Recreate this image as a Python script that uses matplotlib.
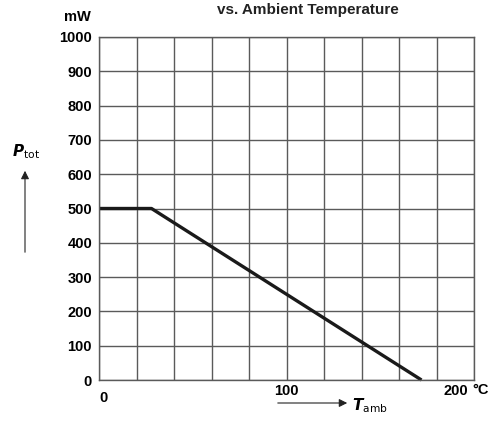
import matplotlib
matplotlib.use("Agg")
import matplotlib.pyplot as plt
from matplotlib.patches import FancyArrowPatch

# data
temp = [0, 28, 172]
power = [500, 500, 0]
x_ticks = [0, 100, 200]
x_tick_labels = ["0", "100", "200"]
y_ticks = [0, 100, 200, 300, 400, 500, 600, 700, 800, 900, 1000]
y_tick_labels = [str(v) for v in y_ticks]

FONT = "Liberation Sans"
FS = 10.5

W, H = 495, 422
fig = plt.figure(figsize=(W / 100, H / 100), dpi=100)
L, R, T, B = 99, 474, 37, 380
ax = fig.add_axes([L / W, 1 - B / H, (R - L) / W, (B - T) / H])

ax.set_xlim(0, 200)
ax.set_ylim(0, 1000)
ax.set_xticks(range(0, 201, 20))
ax.set_yticks(y_ticks)
ax.grid(True, color="#5a5a5a", linewidth=1.0)
ax.set_axisbelow(True)
for s in ax.spines.values():
    s.set_color("#5a5a5a")
    s.set_linewidth(1.0)
ax.tick_params(length=0, labelbottom=False)
ax.set_yticklabels(y_tick_labels, fontsize=FS, fontweight="bold", family=FONT)
ax.tick_params(axis="y", pad=5)

ax.plot(temp, power, color="#1a1a1a", linewidth=2.4, solid_capstyle="butt", clip_on=False)

# x tick labels (positions relative to data via offsets)
offsets = {0: (3, -13), 100: (0, -8), 200: (-13, -8)}
for v, lab in zip(x_ticks, x_tick_labels):
    ax.annotate(lab, xy=(v, 0), xycoords="data", xytext=offsets[v],
                textcoords="offset points", ha="center", va="center",
                fontsize=FS, fontweight="bold", family=FONT)
fig.text(481 / W, 1 - 390 / H, "°C", ha="center", va="center", fontsize=FS,
         fontweight="bold", family=FONT)
fig.text(77 / W, 1 - 17 / H, "mW", ha="center", va="center", fontsize=FS,
         fontweight="bold", family=FONT)

# title (cut off at the top in the reference)
fig.text(308 / W, 1 - 3 / H, "vs. Ambient Temperature", ha="center", va="top",
         fontsize=11, fontweight="bold", family=FONT, color="#222222")

# y axis label with arrow
fig.text(26 / W, 1 - 152 / H, r"$\boldsymbol{P}_{\mathrm{tot}}$", ha="center", va="center",
         fontsize=11)
fig.add_artist(FancyArrowPatch(
    (25 / W, 1 - 255 / H), (25 / W, 1 - 168 / H), transform=fig.transFigure,
    arrowstyle="-|>", mutation_scale=12, color="#222222", linewidth=0.8))

# x axis label with arrow
fig.add_artist(FancyArrowPatch(
    (275 / W, 1 - 403 / H), (350 / W, 1 - 403 / H), transform=fig.transFigure,
    arrowstyle="-|>", mutation_scale=12, color="#222222", linewidth=0.8))
fig.text(370 / W, 1 - 406 / H, r"$\boldsymbol{T}_{\mathrm{amb}}$", ha="center", va="center",
         fontsize=11)

fig.savefig("out.png", dpi=100)
